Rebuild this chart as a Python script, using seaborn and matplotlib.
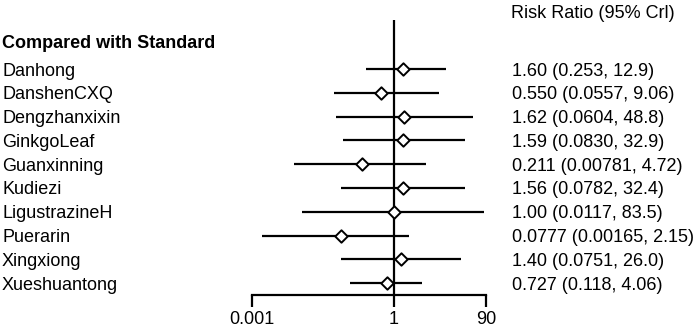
import numpy as np
import pandas as pd
import seaborn as sns
import matplotlib.pyplot as plt
import matplotlib.transforms as mtransforms

treatments = ["Danhong", "DanshenCXQ", "Dengzhanxixin", "GinkgoLeaf", "Guanxinning",
              "Kudiezi", "LigustrazineH", "Puerarin", "Xingxiong", "Xueshuantong"]
rr = [1.60, 0.550, 1.62, 1.59, 0.211, 1.56, 1.00, 0.0777, 1.40, 0.727]
lower = [0.253, 0.0557, 0.0604, 0.0830, 0.00781, 0.0782, 0.0117, 0.00165, 0.0751, 0.118]
upper = [12.9, 9.06, 48.8, 32.9, 4.72, 32.4, 83.5, 2.15, 26.0, 4.06]
rr_text = ["1.60", "0.550", "1.62", "1.59", "0.211", "1.56", "1.00", "0.0777", "1.40", "0.727"]
lo_text = ["0.253", "0.0557", "0.0604", "0.0830", "0.00781", "0.0782", "0.0117", "0.00165", "0.0751", "0.118"]
hi_text = ["12.9", "9.06", "48.8", "32.9", "4.72", "32.4", "83.5", "2.15", "26.0", "4.06"]
xticks = [0.001, 1, 90]
xticklabels = ["0.001", "1", "90"]

df = pd.DataFrame({"treatment": treatments, "rr": rr, "lower": lower, "upper": upper,
                   "row": np.arange(len(treatments))})

sns.set_style("white", {"text.color": "black", "xtick.color": "black", "axes.edgecolor": "black"})
plt.rcParams["font.family"] = ["Liberation Sans", "DejaVu Sans"]

W, H = 699, 330
fig = plt.figure(figsize=(W / 100, H / 100), dpi=100)
ax = fig.add_axes([252 / W, 1 - 295 / H, (486 - 252) / W, (295 - 20) / H])

ax.set_xscale("log")
ax.set_xlim(0.001, 90)
ax.set_ylim(9.5, -2.06)

ax.axvline(1, color="black", lw=1.6, zorder=1)
ax.hlines(df["row"], df["lower"], df["upper"], color="black", lw=1.6, zorder=2)
sns.scatterplot(data=df, x="rr", y="row", marker="D", s=40, color="white",
                edgecolor="black", linewidth=1.4, zorder=3, ax=ax, legend=False)

for s in ["left", "top", "right"]:
    ax.spines[s].set_visible(False)
ax.spines["bottom"].set_linewidth(1.6)
ax.set_xticks(xticks)
ax.set_xticklabels(xticklabels, fontsize=13, color="black")
ax.minorticks_off()
ax.tick_params(axis="x", direction="out", length=8.5, width=1.6, pad=3, bottom=True)
ax.set_yticks([])
ax.set_xlabel("")
ax.set_ylabel("")

trans = mtransforms.blended_transform_factory(fig.transFigure, ax.transData)
for i, name in enumerate(treatments):
    ax.text(2 / W, i, name, transform=trans, fontsize=13, color="black",
            va="center_baseline", ha="left")
    ax.text(512 / W, i, f"{rr_text[i]} ({lo_text[i]}, {hi_text[i]})", transform=trans,
            fontsize=13, color="black", va="center_baseline", ha="left")
ax.text(2 / W, -1.15, "Compared with Standard", transform=trans, fontsize=13,
        color="black", fontweight="bold", va="center_baseline", ha="left")
ax.text(511 / W, -2.4, "Risk Ratio (95% Crl)", transform=trans, fontsize=13,
        color="black", va="center_baseline", ha="left")

fig.savefig("out.png", dpi=100)
